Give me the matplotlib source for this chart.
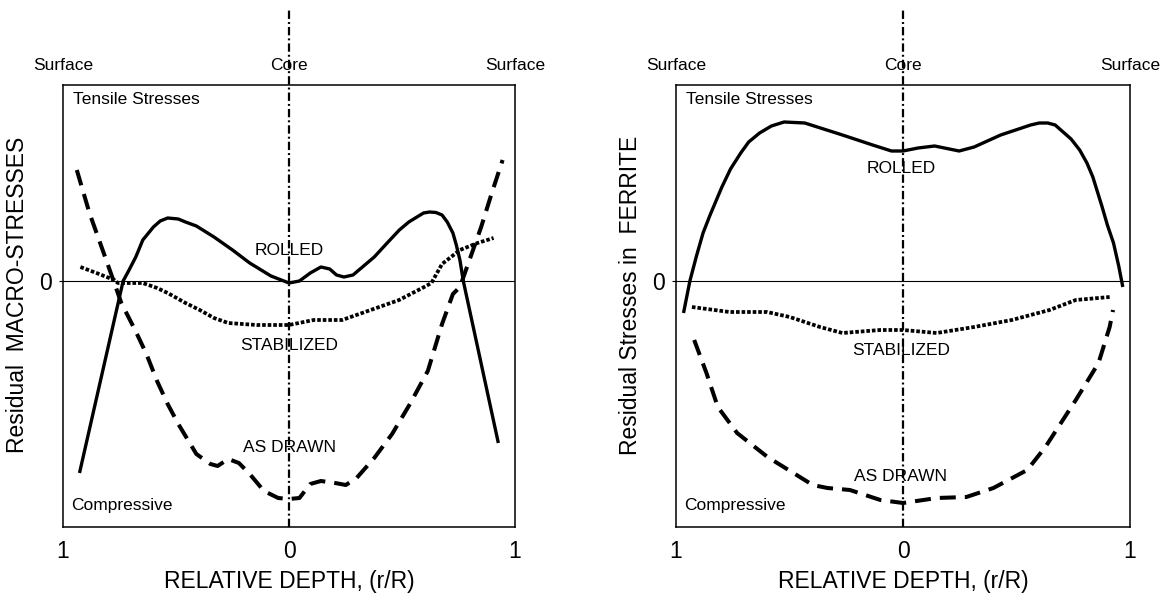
import matplotlib.pyplot as plt

plt.rcParams['font.family'] = ['Liberation Sans', 'DejaVu Sans']
plt.rcParams['lines.scale_dashes'] = False

# x runs surface(-1) -> core(0) -> surface(1); y is relative stress, 0 = no stress
# left panel: residual macro-stresses
macro_rolled_x = [-0.927, -0.734, -0.71, -0.678, -0.647, -0.60, -0.57, -0.537, -0.49, -0.458, -0.41,
                  -0.332, -0.25, -0.174, -0.08, 0.0, 0.046, 0.094, 0.141, 0.18, 0.21, 0.243, 0.283,
                  0.377, 0.43, 0.488, 0.53, 0.566, 0.595, 0.622, 0.65, 0.677, 0.70, 0.725, 0.74,
                  0.756, 0.771, 0.926]
macro_rolled_y = [-1.92, 0.0, 0.10, 0.24, 0.41, 0.54, 0.60, 0.63, 0.62, 0.59, 0.55,
                  0.44, 0.31, 0.18, 0.05, -0.02, 0.0, 0.08, 0.14, 0.12, 0.06, 0.04, 0.06,
                  0.24, 0.37, 0.51, 0.59, 0.64, 0.68, 0.69, 0.685, 0.66, 0.59, 0.48, 0.36,
                  0.21, 0.0, -1.62]

macro_stab_x = [-0.923, -0.852, -0.773, -0.757, -0.647, -0.584, -0.537, -0.458, -0.395, -0.332, -0.269,
                -0.143, 0.0, 0.109, 0.235, 0.361, 0.487, 0.598, 0.63, 0.677, 0.756, 0.834, 0.905]
macro_stab_y = [0.14, 0.08, 0.01, -0.02, -0.02, -0.07, -0.12, -0.22, -0.29, -0.37, -0.42,
                -0.44, -0.44, -0.39, -0.39, -0.29, -0.19, -0.06, -0.02, 0.17, 0.31, 0.38, 0.43]

macro_drawn_x = [-0.939, -0.883, -0.82, -0.773, -0.742, -0.679, -0.631, -0.584, -0.537, -0.49, -0.41,
                 -0.348, -0.316, -0.269, -0.222, -0.174, -0.111, -0.048, 0.0, 0.046, 0.094, 0.141,
                 0.204, 0.251, 0.299, 0.377, 0.456, 0.535, 0.614, 0.677, 0.725, 0.756, 0.803,
                 0.85, 0.897, 0.945]
macro_drawn_y = [1.11, 0.68, 0.28, -0.02, -0.22, -0.50, -0.73, -1.0, -1.23, -1.43, -1.73,
                 -1.83, -1.85, -1.78, -1.82, -1.93, -2.10, -2.17, -2.18, -2.17, -2.03, -2.0,
                 -2.02, -2.04, -1.97, -1.77, -1.53, -1.23, -0.90, -0.43, -0.13, -0.06, 0.24,
                 0.54, 0.88, 1.21]

# right panel: residual stresses in ferrite
fer_rolled_x = [-0.967, -0.939, -0.91, -0.881, -0.85, -0.798, -0.76, -0.715, -0.68, -0.632, -0.58,
                -0.524, -0.433, -0.267, -0.134, -0.051, 0.0, 0.066, 0.139, 0.247, 0.313, 0.430,
                0.562, 0.60, 0.637, 0.67, 0.695, 0.74, 0.778, 0.81, 0.836, 0.877, 0.90, 0.927,
                0.95, 0.968]
fer_rolled_y = [-0.32, 0.0, 0.25, 0.48, 0.66, 0.94, 1.12, 1.28, 1.39, 1.48, 1.55,
                1.59, 1.58, 1.46, 1.36, 1.30, 1.30, 1.33, 1.35, 1.30, 1.34, 1.46,
                1.56, 1.58, 1.58, 1.56, 1.51, 1.42, 1.31, 1.18, 1.04, 0.74, 0.56, 0.38,
                0.15, -0.06]

fer_stab_x = [-0.930, -0.765, -0.599, -0.499, -0.366, -0.267, -0.101, 0.0, 0.148, 0.313, 0.479,
              0.645, 0.761, 0.910]
fer_stab_y = [-0.26, -0.31, -0.31, -0.36, -0.46, -0.52, -0.49, -0.49, -0.52, -0.46, -0.39,
              -0.29, -0.19, -0.16]

fer_drawn_x = [-0.920, -0.866, -0.816, -0.731, -0.597, -0.483, -0.398, -0.333, -0.234, -0.100, 0.0,
               0.149, 0.279, 0.398, 0.547, 0.627, 0.761, 0.861, 0.910, 0.925]
fer_drawn_y = [-0.59, -0.92, -1.26, -1.52, -1.76, -1.92, -2.04, -2.07, -2.09, -2.19, -2.22,
               -2.17, -2.16, -2.07, -1.89, -1.66, -1.19, -0.82, -0.46, -0.29]

tick_pos = [-1, 0, 1]
tick_labels = ['1', '0', '1']

fig = plt.figure(figsize=(11.69, 5.99), dpi=100)
ax1 = fig.add_axes([0.0539, 0.1202, 0.3867, 0.7379])
ax2 = fig.add_axes([0.5783, 0.1202, 0.3884, 0.7379])

panels = [
    (ax1, macro_rolled_x, macro_rolled_y, macro_stab_x, macro_stab_y, macro_drawn_x, macro_drawn_y,
     'Residual  MACRO-STRESSES', [(0.0, 0.30), (0.0, -0.65), (0.0, -1.67)]),
    (ax2, fer_rolled_x, fer_rolled_y, fer_stab_x, fer_stab_y, fer_drawn_x, fer_drawn_y,
     'Residual Stresses in  FERRITE', [(-0.01, 1.12), (-0.01, -0.70), (-0.01, -1.96)]),
]

for ax, rx, ry, sx, sy, dx, dy, ylab, lab_pos in panels:
    ax.axhline(0, color='black', lw=0.8, zorder=1)
    ax.plot(rx, ry, color='black', lw=2.4, solid_joinstyle='round', solid_capstyle='butt')
    ax.plot(sx, sy, color='black', lw=2.7, linestyle=(0, (2.6, 1.4)), dash_capstyle='butt')
    ax.plot(dx, dy, color='black', lw=2.9, linestyle=(0, (11.5, 6.5)), dash_capstyle='butt')
    # core line, runs up above the frame
    ax.axvline(0, ymin=0, ymax=1.17, color='black', lw=1.6,
               linestyle=(0, (6, 2.2, 1.4, 2.2)), clip_on=False, zorder=4)

    ax.set_xlim(-1, 1)
    ax.set_ylim(-2.46, 1.96)
    ax.set_xticks(tick_pos)
    ax.set_xticklabels(tick_labels, fontsize=16.5)
    ax.set_yticks([0])
    ax.set_yticklabels(['0'], fontsize=16.5)
    ax.tick_params(axis='x', length=0, pad=9)
    ax.tick_params(axis='y', length=3, width=0.8, pad=5)
    for sp in ax.spines.values():
        sp.set_linewidth(1.1)

    ax.set_xlabel('RELATIVE DEPTH, (r/R)', fontsize=16.5)
    ax.xaxis.set_label_coords(0.5, -0.124)
    ax.xaxis.label.set_va('center')
    ax.set_ylabel(ylab, fontsize=16.5)
    ax.yaxis.set_label_coords(-0.1, 0.525)
    ax.yaxis.label.set_va('center')

    top = ax.get_xaxis_transform()
    ax.text(-1, 1.045, 'Surface', transform=top, ha='center', va='center', fontsize=12.5)
    ax.text(0, 1.045, 'Core', transform=top, ha='center', va='center', fontsize=12.5)
    ax.text(1, 1.045, 'Surface', transform=top, ha='center', va='center', fontsize=12.5)
    ax.text(-0.955, 1.81, 'Tensile Stresses', ha='left', va='center', fontsize=12.5)
    ax.text(-0.963, -2.24, 'Compressive', ha='left', va='center', fontsize=12.5)

    for name, (lx, ly) in zip(['ROLLED', 'STABILIZED', 'AS DRAWN'], lab_pos):
        ax.text(lx, ly, name, ha='center', va='center', fontsize=12.5)

plt.savefig('out.png', dpi=100)
